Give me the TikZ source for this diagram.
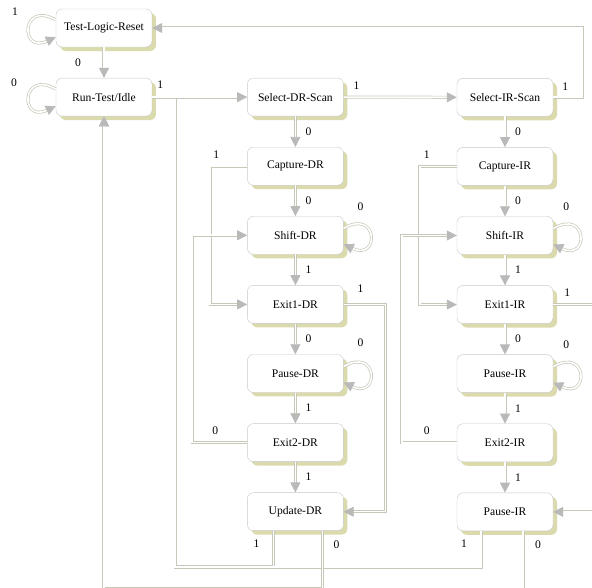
\documentclass[tikz,border=0pt]{standalone}
\usepackage{fontspec}
\setmainfont{Liberation Serif}
\usetikzlibrary{matrix,calc,positioning,shadows,arrows.meta}

\definecolor{linec}{RGB}{200,200,185}
\definecolor{arrowc}{RGB}{185,185,185}
\definecolor{boxc}{RGB}{200,200,200}
\definecolor{shadowc}{RGB}{218,218,172}

\begin{document}
\begin{tikzpicture}[x=1pt, y=1pt,
  state/.style={draw=boxc, fill=white, rounded corners=6pt, anchor=center,
                minimum width=96pt, minimum height=38pt, inner sep=2pt,
                font=\fontsize{11.6}{13}\selectfont,
                drop shadow={shadow xshift=4pt, shadow yshift=-4pt, fill=shadowc, opacity=1}},
  conn/.style={draw=linec, line width=0.7pt, double=white, double distance=1.6pt},
  arr/.style={conn, -{Triangle[length=10pt, width=10pt, color=arrowc, fill=arrowc]}},
  lbl/.style={font=\fontsize{11.6}{13}\selectfont, inner sep=0pt}]

\matrix (drm) [matrix of nodes,
               nodes={state},
               column sep=95pt, row sep=30.7pt] {
|(tlr)| Test-Logic-Reset & \\
|(rti)| Run-Test/Idle & |(sdr)| Select-DR-Scan \\
 & |(cdr)| Capture-DR \\
 & |(shdr)| Shift-DR \\
 & |(e1dr)| Exit1-DR \\
 & |(pdr)| Pause-DR \\
 & |(e2dr)| Exit2-DR \\
 & |(udr)| Update-DR \\
};

\matrix (irm) [matrix of nodes,
               nodes={state},
               row sep=30.7pt, inner sep=0pt, anchor=north west]
               at ($(sdr.north east)+(113,0)$) {
|(sir)| Select-IR-Scan \\
|(cir)| Capture-IR \\
|(shir)| Shift-IR \\
|(e1ir)| Exit1-IR \\
|(pir)| Pause-IR \\
|(e2ir)| Exit2-IR \\
|(uir)| Pause-IR \\
};

\useasboundingbox ($(tlr.center)+(-104,28)$) rectangle ($(tlr.center)+(488,-560)$);

\coordinate (dr1) at ($(rti.east)+(23,0)$);

\draw[conn] ([xshift=-22pt]udr.south) -- ++(0,-36) -| (dr1);
\draw[conn] ([xshift=-24pt]uir.south) -- ++(0,-36) -| (dr1);
\draw[arr] ([xshift=27pt]udr.south) -- ++(0,-58) -| (rti.south);
\draw[arr] ([xshift=18pt]uir.south) -- ++(0,-58) -| (rti.south);

\draw[arr] (tlr.south) -- (rti.north);
\draw[arr] (rti.east) -- (sdr.west);
\draw[arr] (sdr.east) -- (sir.west);
\draw[arr] (sir.east) -- ++(29,0) |- (tlr.east);

\draw[arr] ([yshift=8pt]tlr.west) .. controls +(150:40) and +(205:40) .. ([yshift=-9pt]tlr.west);
\draw[arr] ([yshift=8pt]rti.west) .. controls +(150:40) and +(205:40) .. ([yshift=-9pt]rti.west);

\draw[arr] (sdr) -- (cdr);
\draw[arr] (cdr) -- (shdr);
\draw[arr] (shdr) -- (e1dr);
\draw[arr] (e1dr) -- (pdr);
\draw[arr] (pdr) -- (e2dr);
\draw[arr] (e2dr) -- (udr);
\draw[arr] (cdr.west) -- ++(-37,0) |- (e1dr.west);
\draw[arr] (e2dr.west) -- ++(-55,0) |- (shdr.west);
\draw[arr] (e1dr.east) -- ++(42,0) |- (udr.east);
\draw[arr] ([yshift=7pt]shdr.east) .. controls +(30:40) and +(-25:40) .. ([yshift=-9pt]shdr.east);
\draw[arr] ([yshift=7pt]pdr.east) .. controls +(30:40) and +(-25:40) .. ([yshift=-9pt]pdr.east);

\draw[arr] (sir) -- (cir);
\draw[arr] (cir) -- (shir);
\draw[arr] (shir) -- (e1ir);
\draw[arr] (e1ir) -- (pir);
\draw[arr] (pir) -- (e2ir);
\draw[arr] (e2ir) -- (uir);
\draw[arr] (cir.west) -- ++(-37,0) |- (e1ir.west);
\draw[arr] (e2ir.west) -- ++(-55,0) |- (shir.west);
\draw[arr] (e1ir.east) -- ++(45,0) |- (uir.east);
\draw[arr] ([yshift=7pt]shir.east) .. controls +(30:40) and +(-25:40) .. ([yshift=-9pt]shir.east);
\draw[arr] ([yshift=7pt]pir.east) .. controls +(30:40) and +(-25:40) .. ([yshift=-9pt]pir.east);

\node[lbl] (l-tlr-1) at ($(tlr.center)+(-89,16)$) {1};
\node[lbl] (l-tlr-0) at ($(tlr.south)!0.5!(rti.north)+(-26,0)$) {0};
\node[lbl] (l-rti-0) at ($(rti.center)+(-90,14)$) {0};
\node[lbl] (l-rti-1) at ($(rti.east)+(8,12)$) {1};
\node[lbl] (l-sdr-1) at ($(sdr.east)+(13,11)$) {1};
\node[lbl] (l-sir-1) at ($(sir.east)+(12,11)$) {1};

\node[lbl] (l-sdr-0) at ($(sdr.south)!0.5!(cdr.north)+(13,0)$) {0};
\node[lbl] (l-cdr-0) at ($(cdr.south)!0.5!(shdr.north)+(13,0)$) {0};
\node[lbl] (l-cdr-1) at ($(cdr.west)+(-31,12)$) {1};
\node[lbl] (l-shdr-0) at ($(shdr.east)+(17,29)$) {0};
\node[lbl] (l-shdr-1) at ($(shdr.south)!0.5!(e1dr.north)+(13,0)$) {1};
\node[lbl] (l-e1dr-0) at ($(e1dr.south)!0.5!(pdr.north)+(13,0)$) {0};
\node[lbl] (l-e1dr-1) at ($(e1dr.east)+(17,16)$) {1};
\node[lbl] (l-pdr-0) at ($(pdr.east)+(17,31)$) {0};
\node[lbl] (l-pdr-1) at ($(pdr.south)!0.5!(e2dr.north)+(13,0)$) {1};
\node[lbl] (l-e2dr-0) at ($(e2dr.west)+(-32,12)$) {0};
\node[lbl] (l-e2dr-1) at ($(e2dr.south)!0.5!(udr.north)+(13,0)$) {1};
\node[lbl] (l-udr-1) at ($(udr.south)+(-39,-13)$) {1};
\node[lbl] (l-udr-0) at ($(udr.south)+(41,-14)$) {0};

\node[lbl] (l-sir-0) at ($(sir.south)!0.5!(cir.north)+(13,0)$) {0};
\node[lbl] (l-cir-0) at ($(cir.south)!0.5!(shir.north)+(13,0)$) {0};
\node[lbl] (l-cir-1) at ($(cir.west)+(-30,12)$) {1};
\node[lbl] (l-shir-0) at ($(shir.east)+(13,29)$) {0};
\node[lbl] (l-shir-1) at ($(shir.south)!0.5!(e1ir.north)+(13,0)$) {1};
\node[lbl] (l-e1ir-0) at ($(e1ir.south)!0.5!(pir.north)+(13,0)$) {0};
\node[lbl] (l-e1ir-1) at ($(e1ir.east)+(14,12)$) {1};
\node[lbl] (l-pir-0) at ($(pir.east)+(13,29)$) {0};
\node[lbl] (l-pir-1) at ($(pir.south)!0.5!(e2ir.north)+(13,0)$) {1};
\node[lbl] (l-e2ir-0) at ($(e2ir.west)+(-30,12)$) {0};
\node[lbl] (l-e2ir-1) at ($(e2ir.south)!0.5!(uir.north)+(13,0)$) {1};
\node[lbl] (l-uir-1) at ($(uir.south)+(-41,-13)$) {1};
\node[lbl] (l-uir-0) at ($(uir.south)+(33,-14)$) {0};

\end{tikzpicture}
\end{document}
